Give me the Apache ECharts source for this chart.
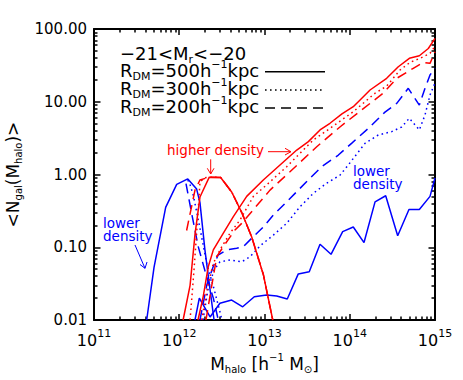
<!DOCTYPE html>
<html>
<head>
<meta charset="utf-8" />
<title>Ngal vs Mhalo</title>
<script src="https://cdn.jsdelivr.net/npm/echarts@6/dist/echarts.min.js"></script>
<style>
  * { margin: 0; padding: 0; }
  body { background: #fff; }
  #chart-panel { width: 463px; height: 380px; }
</style>
</head>
<body>
<div id="chart-panel"></div>
<script>
// values, pairs of [M_halo, <N_gal>]
// higher density (red): centrals bump + satellites
const highCen500 = [[1.11e12, 0.01], [1.34e12, 0.03], [1.53e12, 0.15], [1.75e12, 0.49], [2.25e12, 0.92], [3.06e12, 0.91], [4.12e12, 0.575], [5.44e12, 0.296], [7.08e12, 0.138], [9.7e12, 0.042], [1.25e13, 0.01]];
const highCen300 = [[1.34e12, 0.01], [1.49e12, 0.049], [1.64e12, 0.237], [1.75e12, 0.79], [2.0e12, 0.9], [2.25e12, 0.92], [3.06e12, 0.91], [4.12e12, 0.575], [5.44e12, 0.296], [7.08e12, 0.138], [9.7e12, 0.042], [1.25e13, 0.01]];
const highCen200 = [[1.22e12, 0.17], [1.53e12, 0.61], [1.75e12, 0.84], [2.25e12, 0.92], [3.06e12, 0.91], [4.12e12, 0.575], [5.44e12, 0.296], [7.08e12, 0.138], [9.7e12, 0.042], [1.25e13, 0.01]];
const highSat500 = [[1.66e12, 0.01], [1.91e12, 0.021], [2.19e12, 0.054], [2.51e12, 0.092], [3.29e12, 0.156], [4.31e12, 0.263], [6.18e12, 0.5], [9.68e12, 0.84], [1.52e13, 1.35], [2.39e13, 2.17], [3.27e13, 2.83], [4.48e13, 4.1], [5.86e13, 5.06], [8.1e13, 6.8], [1.1e14, 8.55], [1.73e14, 14.5], [2.71e14, 21], [3.71e14, 30.3], [5.0e14, 39.5], [6.55e14, 42.9], [8.35e14, 54], [1e15, 74.5]];
const highSat300 = [[1.83e12, 0.01], [2.19e12, 0.032], [2.51e12, 0.06], [3.0e12, 0.092], [3.94e12, 0.156], [5.16e12, 0.237], [7.4e12, 0.5], [1.06e13, 0.72], [1.82e13, 1.28], [3.73e13, 2.98], [5.86e13, 4.3], [1.1e14, 7.3], [1.98e14, 13.1], [2.71e14, 16.4], [3.89e14, 27.3], [5.1e14, 34.8], [6.67e14, 39.5], [8.74e14, 46.3], [1e15, 58]];
const highSat200 = [[2.06e12, 0.01], [2.36e12, 0.026], [2.75e12, 0.074], [3.29e12, 0.102], [4.51e12, 0.173], [5.4e12, 0.213], [1.16e13, 0.61], [1.99e13, 1.09], [4.1e13, 2.41], [7.67e13, 4.5], [1.73e14, 9.5], [2.47e14, 13.1], [3.56e14, 21], [5.56e14, 28.8], [7.29e14, 34.8], [8.74e14, 33.7], [1e15, 48.7]];

// lower density (blue)
const lowCen500 = [[4.15e11, 0.01], [5.06e11, 0.053], [6.93e11, 0.354], [9.33e11, 0.73], [1.26e12, 0.87], [1.6e12, 0.63], [1.75e12, 0.41], [2.0e12, 0.092], [2.3e12, 0.026], [2.56e12, 0.01]];
const lowCen300 = [[1.26e12, 0.84], [1.34e12, 0.72], [1.46e12, 0.52], [1.75e12, 0.182], [2.1e12, 0.06], [2.51e12, 0.029], [3.0e12, 0.013], [3.17e12, 0.01]];
const lowCen200 = [[1.2e12, 0.75], [1.4e12, 0.29], [1.67e12, 0.102], [2.1e12, 0.039], [2.51e12, 0.02], [2.87e12, 0.01]];
const lowSat500 = [[1.53e12, 0.01], [1.72e12, 0.02], [2.3e12, 0.011], [3.0e12, 0.017], [4.12e12, 0.0188], [5.55e12, 0.0152], [7.59e12, 0.0209], [1.06e13, 0.022], [1.39e13, 0.0214], [1.85e13, 0.0194], [2.49e13, 0.043], [3.35e13, 0.046], [4.48e13, 0.11], [6.03e13, 0.08], [8.26e13, 0.164], [1.1e14, 0.19], [1.47e14, 0.116], [1.98e14, 0.42], [2.64e14, 0.51], [3.65e14, 0.144], [4.95e14, 0.33], [6.55e14, 0.33], [8.74e14, 0.5], [1e15, 0.9]];
const lowSat300 = [[1.9e12, 0.01], [2.17e12, 0.026], [2.56e12, 0.049], [3.0e12, 0.063], [3.94e12, 0.067], [5.4e12, 0.063], [6.77e12, 0.074], [8.85e12, 0.104], [1.27e13, 0.147], [1.82e13, 0.213], [2.61e13, 0.36], [3.73e13, 0.55], [5.37e13, 0.76], [7.69e13, 0.98], [9.6e13, 1.35], [1.51e14, 2.68], [2.16e14, 3.49], [3.1e14, 3.88], [4.07e14, 4.5], [5.0e14, 5.93], [6.55e14, 4.1], [7.64e14, 6.6], [8.74e14, 12.4], [1e15, 18.1]];
const lowSat200 = [[1.75e12, 0.01], [2.1e12, 0.03], [2.5e12, 0.054], [2.85e12, 0.078], [3.6e12, 0.092], [4.72e12, 0.097], [5.64e12, 0.102], [7.4e12, 0.14], [9.68e12, 0.19], [1.27e13, 0.277], [1.82e13, 0.42], [2.49e13, 0.61], [3.42e13, 0.89], [4.69e13, 1.28], [7.35e13, 1.85], [1.05e14, 2.68], [1.65e14, 4.3], [2.59e14, 7.2], [3.56e14, 9.5], [4.86e14, 15.3], [6.55e14, 9.0], [7.64e14, 15.3], [8.74e14, 23.3], [1e15, 29]];

// axis ticks (the last x label value sits a hair inside the axis end, log rounding)
const xMajor = [1e11, 1e12, 1e13, 1e14, 1e15];
const xLabelAt = [1e11, 1e12, 1e13, 1e14, 0.999999e15];
const yMajor = [0.01, 0.1, 1, 10, 100];
const xMinor = [];
const yMinor = [];
[1e11, 1e12, 1e13, 1e14].forEach(function (d) {
  for (let k = 2; k <= 9; k++) xMinor.push(d * k);
});
[0.01, 0.1, 1, 10].forEach(function (d) {
  for (let k = 2; k <= 9; k++) yMinor.push(d * k);
});

const FONT = 'DejaVu Sans';
const RED = '#ff0000';
const BLUE = '#0000ff';
const DOT = [1.6, 3.4];
const DASH = [10, 6];

const rich = {
  b: { fontSize: 18, lineHeight: 18, fontFamily: FONT, color: '#000' },
  sub: { fontSize: 11, verticalAlign: 'bottom', height: 6, lineHeight: 6, fontFamily: FONT, color: '#000' },
  sup: { fontSize: 11, verticalAlign: 'top', height: 6, lineHeight: 6, fontFamily: FONT, color: '#000' }
};
const nameRich = {
  b: { fontSize: 17, lineHeight: 30, fontFamily: FONT, color: '#000' },
  sub: { fontSize: 10, verticalAlign: 'bottom', height: 18, fontFamily: FONT, color: '#000' },
  sup: { fontSize: 10, verticalAlign: 'top', height: 18, fontFamily: FONT, color: '#000' }
};

var myChart = echarts.init(document.getElementById('chart-panel'), null, { renderer: 'svg' });

function axisLine(show) {
  return { show: show, lineStyle: { color: '#000', width: 2 } };
}

function xAx(pos, ticks, len, withLabels) {
  return {
    type: 'log', logBase: 10, min: 1e11, max: 1e15, position: pos,
    axisLine: axisLine(len > 4),
    axisTick: { show: true, inside: true, length: len, customValues: ticks, lineStyle: { color: '#000', width: 1.5 } },
    minorTick: { show: false },
    splitLine: { show: false },
    axisLabel: withLabels ? {
      show: true, customValues: xLabelAt, margin: 6, showMaxLabel: true, showMinLabel: true, hideOverlap: false,
      formatter: function (v) { return '{b|10}{s|' + Math.round(Math.log10(v)) + '}'; },
      rich: {
        b: { fontSize: 16, lineHeight: 28, fontFamily: FONT, color: '#000' },
        s: { fontSize: 11, verticalAlign: 'top', height: 14, fontFamily: FONT, color: '#000' }
      }
    } : { show: false }
  };
}

function yAx(pos, ticks, len, withLabels) {
  return {
    type: 'log', logBase: 10, min: 0.01, max: 100, position: pos,
    axisLine: axisLine(len > 4),
    axisTick: { show: true, inside: true, length: len, customValues: ticks, lineStyle: { color: '#000', width: 1.5 } },
    minorTick: { show: false },
    splitLine: { show: false },
    axisLabel: withLabels ? {
      show: true, customValues: yMajor, margin: 7, showMaxLabel: true, showMinLabel: true,
      fontSize: 15, fontFamily: FONT, color: '#000',
      formatter: function (v) { return v.toFixed(2); }
    } : { show: false }
  };
}

const xAxes = [xAx('bottom', xMajor, 6, true), xAx('bottom', xMinor, 3.5, false), xAx('top', xMajor, 6, false), xAx('top', xMinor, 3.5, false)];
xAxes[0].name = '{b|M}{sub|halo}{b| [h}{sup|\u22121}{b| M}{sub|\u2299}{b|]}';
xAxes[0].nameLocation = 'middle';
xAxes[0].nameGap = 26;
xAxes[0].nameTextStyle = { rich: nameRich };

const yAxes = [yAx('left', yMajor, 6.5, true), yAx('left', yMinor, 3.5, false), yAx('right', yMajor, 6.5, false), yAx('right', yMinor, 3.5, false)];
yAxes[0].name = '{b|<N}{sub|gal}{b|(M}{sub|halo}{b|)>}';
yAxes[0].nameLocation = 'middle';
yAxes[0].nameRotate = 90;
yAxes[0].nameGap = 64;
yAxes[0].nameTextStyle = { rich: nameRich };

function line(name, data, color, type) {
  return {
    name: name, type: 'line', data: data,
    xAxisIndex: 0, yAxisIndex: 0,
    symbol: 'none', showSymbol: false, clip: true, animation: false,
    lineStyle: { color: color, width: 1.5, type: type },
    emphasis: { disabled: true }
  };
}

function label(x, y, text, color) {
  return {
    type: 'text', x: x, y: y,
    style: { text: text, fill: color, font: '13.5px "DejaVu Sans"', lineHeight: 13, align: 'left', verticalAlign: 'middle' }
  };
}
function poly(points, color) {
  return { type: 'polyline', shape: { points: points }, style: { stroke: color, lineWidth: 1, fill: null } };
}
function legendText(y, text) {
  return { type: 'text', x: 120, y: y, style: { text: text, rich: rich, fill: '#000', align: 'left', verticalAlign: 'middle' } };
}
function legendLine(y, dash) {
  return { type: 'line', shape: { x1: 265, y1: y, x2: 325, y2: y }, style: { stroke: '#000', lineWidth: 1.5, lineDash: dash } };
}

var option = {
  backgroundColor: '#fff',
  animation: false,
  grid: { left: 94, right: 28, top: 29, bottom: 60, containLabel: false, outerBoundsMode: 'none' },
  xAxis: xAxes,
  yAxis: yAxes,
  series: [
    line('low500cen', lowCen500, BLUE, 'solid'),
    line('low300cen', lowCen300, BLUE, DOT),
    line('low200cen', lowCen200, BLUE, DASH),
    line('low500sat', lowSat500, BLUE, 'solid'),
    line('low300sat', lowSat300, BLUE, DOT),
    line('low200sat', lowSat200, BLUE, DASH),
    line('high500cen', highCen500, RED, 'solid'),
    line('high300cen', highCen300, RED, DOT),
    line('high200cen', highCen200, RED, DASH),
    line('high500sat', highSat500, RED, 'solid'),
    line('high300sat', highSat300, RED, DOT),
    line('high200sat', highSat200, RED, DASH)
  ],
  graphic: [
    legendText(53, '{b|\u221221<M}{sub|r}{b|<\u221220}'),
    legendText(70, '{b|R}{sub|DM}{b|=500h}{sup|\u22121}{b|kpc}'),
    legendText(88, '{b|R}{sub|DM}{b|=300h}{sup|\u22121}{b|kpc}'),
    legendText(106.5, '{b|R}{sub|DM}{b|=200h}{sup|\u22121}{b|kpc}'),
    legendLine(71.7, null),
    legendLine(90, DOT),
    legendLine(108, DASH),
    label(167, 149.5, 'higher density', RED),
    poly([[268, 151.7], [291, 151.7]], RED),
    poly([[285, 148.3], [291, 151.7], [285, 155]], RED),
    poly([[210.7, 159.3], [210.7, 174]], RED),
    poly([[207.3, 168.3], [210.7, 174], [214, 168.3]], RED),
    label(103, 229, 'lower\ndensity', BLUE),
    poly([[135, 245], [145, 268.3]], BLUE),
    poly([[140, 264.5], [145, 268.3], [147, 262]], BLUE),
    label(353, 177, 'lower\ndensity', BLUE)
  ]
};

if (option && typeof option === 'object') {
  myChart.setOption(option);
}
</script>
</body>
</html>
